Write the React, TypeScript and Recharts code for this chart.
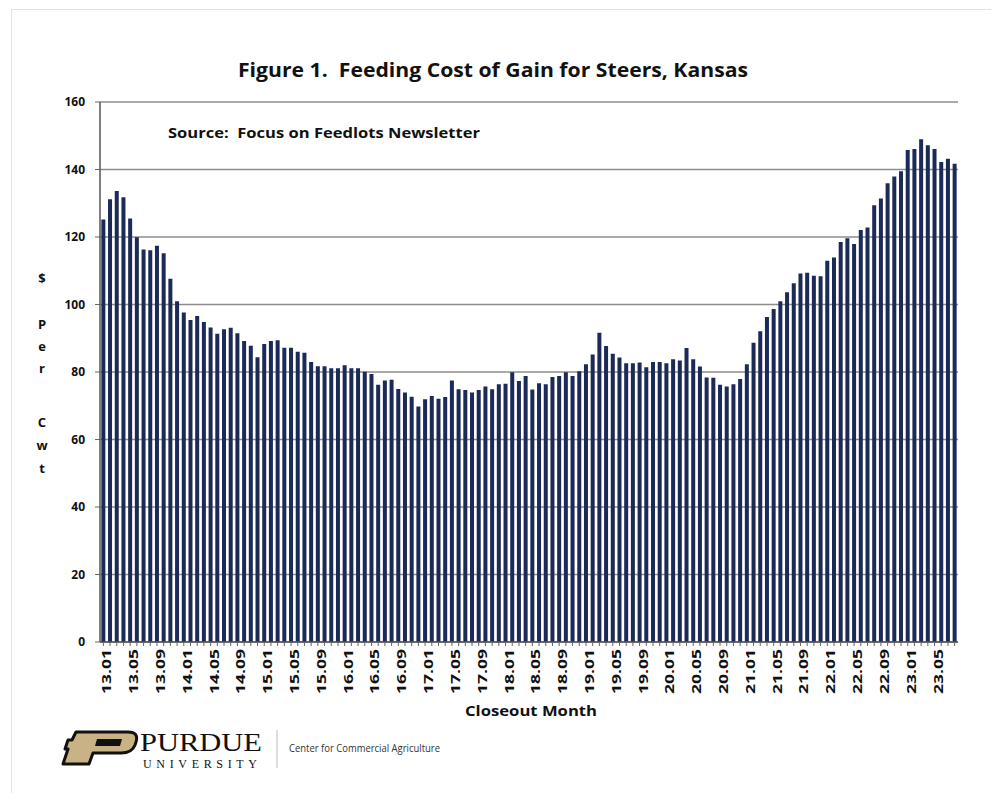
import React from 'react';
import { BarChart, Bar, XAxis, YAxis, CartesianGrid } from 'recharts';

// closeout months 13.01 .. 23.08
const years = ['13', '14', '15', '16', '17', '18', '19', '20', '21', '22', '23'];
const months = ['01', '02', '03', '04', '05', '06', '07', '08', '09', '10', '11', '12'];
const lastMonthCount = 8;

// $ per cwt
const costOfGain = [
  125.2, 131.2, 133.6, 131.8, 125.5, 119.9, 116.3, 116.1, 117.4, 115.2, 107.6, 101.0,
  97.6, 95.4, 96.6, 94.8, 93.2, 91.3, 92.7, 93.1, 91.5, 89.2, 87.8, 84.4,
  88.3, 89.2, 89.4, 87.2, 87.2, 86.0, 85.7, 83.0, 81.7, 81.7, 81.1, 81.1,
  82.0, 81.1, 81.1, 80.1, 79.4, 76.2, 77.5, 77.7, 75.0, 73.9, 72.7, 69.8,
  71.9, 72.9, 72.1, 72.6, 77.5, 74.9, 74.7, 73.9, 74.7, 75.7, 74.9, 76.4,
  76.5, 79.9, 77.3, 78.8, 74.8, 76.7, 76.4, 78.5, 78.8, 79.9, 78.8, 80.2,
  82.3, 85.2, 91.6, 87.7, 85.4, 84.3, 82.6, 82.6, 82.8, 81.4, 83.0, 83.0,
  82.6, 83.8, 83.4, 87.1, 83.8, 81.6, 78.4, 78.3, 76.2, 75.7, 76.4, 77.9,
  82.3, 88.7, 92.1, 96.3, 98.7, 101.0, 103.6, 106.3, 109.2, 109.4, 108.5, 108.4,
  113.0, 113.9, 118.5, 119.6, 117.9, 122.1, 122.8, 129.4, 131.4, 135.9, 137.9, 139.5,
  145.8, 146.1, 149.0, 147.2, 146.1, 142.2, 143.2, 141.7,
];

const yTicks = [0, 20, 40, 60, 80, 100, 120, 140, 160];
const yLabelLetters = ['$', 'P', 'e', 'r', 'C', 'w', 't'];

const monthLabels: string[] = [];
years.forEach((yr, i) => {
  const ms = i === years.length - 1 ? months.slice(0, lastMonthCount) : months;
  ms.forEach(m => monthLabels.push(`${yr}.${m}`));
});

const data = monthLabels.map((month, i) => ({ month, cost: costOfGain[i] }));

const FONT = '"Open Sans", "DejaVu Sans", sans-serif';
const SERIF = '"Liberation Serif", "DejaVu Serif", serif';

const MonthTick = (props: any) => {
  const { x, y, payload } = props;
  const idx = monthLabels.indexOf(payload.value);
  if (idx % 4 !== 0) return <g />;
  return (
    <text
      transform={`translate(${x + 8},${y + 1}) rotate(-90)`}
      textAnchor="end"
      fontFamily={FONT}
      fontWeight="bold"
      fontSize={12}
      fill="#111"
      textLength={45}
      lengthAdjust="spacingAndGlyphs"
    >
      {payload.value}
    </text>
  );
};

const yLetterPos = [278, 324, 346, 368, 422, 445, 468];

export default function App() {
  return (
    <div style={{ position: 'relative', width: 999, height: 801, margin: -8, background: '#fff' }}>
      <BarChart
        width={999}
        height={801}
        data={data}
        margin={{ top: 102, right: 41, left: 0, bottom: 99 }}
        barCategoryGap="20%"
      >
        <CartesianGrid vertical={false} stroke="#8d8d8d" strokeWidth={1.5} />
        <XAxis
          dataKey="month"
          interval={0}
          height={60}
          tick={<MonthTick />}
          tickSize={4}
          tickLine={{ stroke: '#666' }}
          axisLine={{ stroke: '#555', strokeWidth: 1.5 }}
        />
        <YAxis
          width={100}
          domain={[0, 160]}
          ticks={yTicks}
          interval={0}
          tickSize={5}
          tickMargin={10}
          tickLine={{ stroke: '#666' }}
          axisLine={{ stroke: '#555', strokeWidth: 1.5 }}
          tick={{ fill: '#111', fontSize: 12, fontWeight: 'bold', fontFamily: FONT }}
        />
        <Bar dataKey="cost" fill="#1b2a57" isAnimationActive={false} />
      </BarChart>

      <svg
        width={999}
        height={801}
        style={{ position: 'absolute', left: 0, top: 0, pointerEvents: 'none' }}
      >
        <rect x={11.5} y={9.5} width={986} height={789} fill="none" stroke="#e2e2e2" />
        <text
          x={238}
          y={77}
          fontFamily={FONT}
          fontWeight="bold"
          fontSize={20}
          fill="#111"
          textLength={510}
          lengthAdjust="spacingAndGlyphs"
          style={{ whiteSpace: 'pre' }}
        >
          {'Figure 1.  Feeding Cost of Gain for Steers, Kansas'}
        </text>
        <text
          x={168}
          y={138}
          fontFamily={FONT}
          fontWeight="bold"
          fontSize={14}
          fill="#111"
          textLength={312}
          lengthAdjust="spacingAndGlyphs"
          style={{ whiteSpace: 'pre' }}
        >
          {'Source:  Focus on Feedlots Newsletter'}
        </text>
        {yLabelLetters.map((ch, i) => (
          <text
            key={i}
            x={42}
            y={yLetterPos[i] + 5}
            textAnchor="middle"
            fontFamily={FONT}
            fontWeight="bold"
            fontSize={13}
            fill="#111"
          >
            {ch}
          </text>
        ))}
        <text
          x={531}
          y={716}
          textAnchor="middle"
          fontFamily={FONT}
          fontWeight="bold"
          fontSize={15}
          fill="#111"
          textLength={132}
          lengthAdjust="spacingAndGlyphs"
        >
          Closeout Month
        </text>

        {/* Purdue logo */}
        <g transform="translate(60,730)">
          <path
            d="M16 2 H68 Q79 2 76 12 L75 15 Q72 23 61 23 H33 L29 34 H3 L8 19 H5 L8 10 H12 Z"
            fill="#c9b285"
            stroke="#111"
            strokeWidth={3}
            strokeLinejoin="round"
          />
          <path d="M37 9 H62 L60 16 H35 Z" fill="#111" />
        </g>
        <text
          x={140}
          y={751}
          fontFamily={SERIF}
          fontSize={26}
          fill="#111"
          textLength={122}
          lengthAdjust="spacingAndGlyphs"
        >
          PURDUE
        </text>
        <text
          x={143}
          y={768}
          fontFamily={SERIF}
          fontSize={12}
          fill="#111"
          textLength={114}
          lengthAdjust="spacing"
        >
          UNIVERSITY
        </text>
        <line x1={277} y1={730} x2={277} y2={768} stroke="#bbb" />
        <text
          x={289}
          y={752}
          fontFamily={FONT}
          fontSize={10}
          fill="#333"
          textLength={151}
          lengthAdjust="spacingAndGlyphs"
        >
          Center for Commercial Agriculture
        </text>
      </svg>
    </div>
  );
}
